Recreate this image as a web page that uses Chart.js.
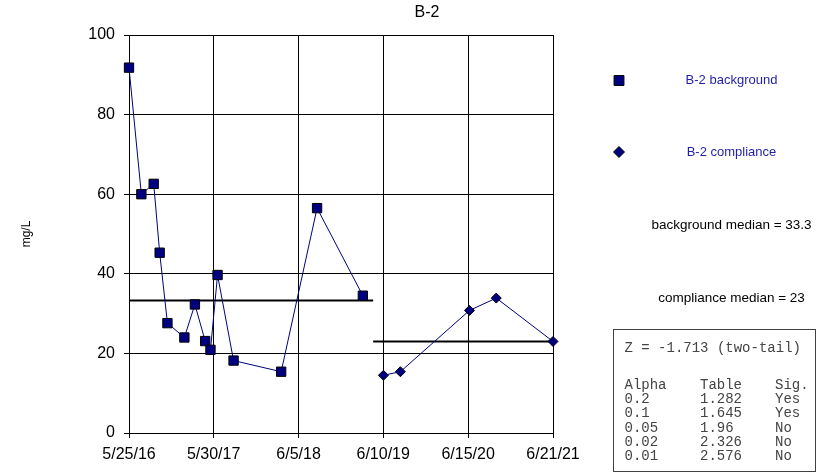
<!DOCTYPE html>
<html>
<head>
<meta charset="utf-8">
<title>B-2</title>
<script src="https://cdn.jsdelivr.net/npm/chart.js@4.4.1/dist/chart.umd.min.js"></script>
<style>
  html, body { margin: 0; padding: 0; background: #fff; }
  #wrap { width: 837px; height: 473px; }
</style>
</head>
<body>
<div id="wrap"><canvas id="b2-chart" width="837" height="473"></canvas></div>
<script>
// B-2 samples (mg/L)
const bgDates = ['5/25/16', '7/18/16', '9/10/16', '10/6/16', '11/9/16', '1/22/17', '3/9/17',
                 '4/23/17', '5/16/17', '6/16/17', '8/25/17', '3/21/18', '8/25/18', '3/13/19'];
const bgValues = [91.8, 60.0, 62.6, 45.3, 27.6, 24.0, 32.3, 23.1, 20.9, 39.7, 18.2, 15.4, 56.5, 34.5];

const compDates = ['6/11/19', '8/24/19', '6/21/20', '10/16/20', '6/21/21'];
const compValues = [14.5, 15.4, 30.8, 33.9, 23.0];

const bgMedian = 33.3;
const compMedian = 23;

const xTickLabels = ['5/25/16', '5/30/17', '6/5/18', '6/10/19', '6/15/20', '6/21/21'];

// stats box
const zLine = 'Z = -1.713 (two-tail)';
const statHeader = ['Alpha', 'Table', 'Sig.'];
const alphas = ['0.2', '0.1', '0.05', '0.02', '0.01'];
const tableVals = ['1.282', '1.645', '1.96', '2.326', '2.576'];
const sigs = ['Yes', 'Yes', 'No', 'No', 'No'];

// dates -> days since first tick (no date adapter loaded)
const DAY = 86400000;
function toMs(s) {
    const p = s.split('/');
    return Date.UTC(2000 + Number(p[2]), Number(p[0]) - 1, Number(p[1]));
}
const origin = toMs(xTickLabels[0]);
const toDay = s => (toMs(s) - origin) / DAY;

const tickDays = xTickLabels.map(toDay);
const xMax = tickDays[tickDays.length - 1];

const bgPoints = bgDates.map((d, i) => ({ x: toDay(d), y: bgValues[i] }));
const compPoints = compDates.map((d, i) => ({ x: toDay(d), y: compValues[i] }));
const splitDay = (bgPoints[bgPoints.length - 1].x + compPoints[0].x) / 2;

const NAVY = '#000080';
const SANS = "'Liberation Sans', Arial, sans-serif";
const MONO = "'Liberation Mono', 'Courier New', monospace";

Chart.defaults.font.family = SANS;
Chart.defaults.color = '#000';

// title, legend, median notes and the stats box
const sidePanel = {
    id: 'sidePanel',
    afterDraw(chart) {
        const ctx = chart.ctx;
        ctx.save();
        ctx.textBaseline = 'middle';

        ctx.fillStyle = '#000';
        ctx.font = '16px ' + SANS;
        ctx.textAlign = 'center';
        ctx.fillText('B-2', 427, 13);

        // legend
        const rows = [80.5, 152];
        [0, 1].forEach(i => {
            const ds = chart.data.datasets[i];
            ctx.fillStyle = ds.pointBackgroundColor;
            ctx.strokeStyle = ds.pointBorderColor;
            ctx.lineWidth = 1;
            const r = ds.pointStyle === 'rect' ? 7 : 5.5;
            Chart.helpers.drawPoint(ctx, { pointStyle: ds.pointStyle, radius: r, borderWidth: 1, rotation: 0 }, 619, rows[i]);
            ctx.fillStyle = '#1f1fa8';
            ctx.font = '13px ' + SANS;
            ctx.textAlign = 'center';
            ctx.fillText(ds.label, 731.5, rows[i]);
        });

        ctx.fillStyle = '#000';
        ctx.font = '13.5px ' + SANS;
        ctx.fillText('background median = ' + bgMedian, 731.5, 225);
        ctx.fillText('compliance median = ' + compMedian, 731.5, 298);

        // stats box
        ctx.strokeStyle = '#404040';
        ctx.lineWidth = 1;
        ctx.strokeRect(613.5, 329.5, 202, 142);

        ctx.fillStyle = '#444';
        ctx.font = '14px ' + MONO;
        ctx.textAlign = 'left';
        ctx.fillText(zLine, 624.5, 348);
        const cols = [624.5, 700, 775];
        statHeader.forEach((t, c) => ctx.fillText(t, cols[c], 385));
        alphas.forEach((a, i) => {
            const y = 399.3 + i * 14.3;
            ctx.fillText(a, cols[0], y);
            ctx.fillText(tableVals[i], cols[1], y);
            ctx.fillText(sigs[i], cols[2], y);
        });
        ctx.restore();
    }
};

new Chart(document.getElementById('b2-chart'), {
    type: 'line',
    data: {
        datasets: [{
            label: 'B-2 background',
            data: bgPoints,
            borderColor: NAVY,
            borderWidth: 1,
            pointStyle: 'rect',
            pointRadius: 6.6,
            pointBackgroundColor: NAVY,
            pointBorderColor: '#000',
            pointBorderWidth: 1,
            tension: 0,
            clip: false
        }, {
            label: 'B-2 compliance',
            data: compPoints,
            borderColor: NAVY,
            borderWidth: 1,
            pointStyle: 'rectRot',
            pointRadius: 5,
            pointBackgroundColor: NAVY,
            pointBorderColor: '#000',
            pointBorderWidth: 1,
            tension: 0,
            clip: false
        }, {
            label: 'background median',
            data: [{ x: 0, y: bgMedian }, { x: splitDay, y: bgMedian }],
            borderColor: '#000',
            borderWidth: 2,
            pointRadius: 0,
            clip: false
        }, {
            label: 'compliance median',
            data: [{ x: splitDay, y: compMedian }, { x: xMax, y: compMedian }],
            borderColor: '#000',
            borderWidth: 2,
            pointRadius: 0,
            clip: false
        }]
    },
    options: {
        responsive: false,
        devicePixelRatio: 1,
        animation: false,
        layout: {
            padding: { left: 0, right: 284, top: 35, bottom: 0 }
        },
        plugins: {
            legend: { display: false },
            title: { display: false },
            tooltip: { enabled: false }
        },
        scales: {
            x: {
                type: 'linear',
                min: 0,
                max: xMax,
                afterBuildTicks: scale => {
                    scale.ticks = tickDays.map(v => ({ value: v }));
                },
                afterFit: scale => { scale.height = 40; },
                ticks: {
                    autoSkip: false,
                    maxRotation: 0,
                    padding: 7,
                    font: { size: 16 },
                    callback: (value, index) => xTickLabels[index]
                },
                grid: { color: '#000', lineWidth: 1, tickLength: 5 },
                border: { color: '#000', width: 1 }
            },
            y: {
                min: 0,
                max: 100,
                afterFit: scale => { scale.width = 129; },
                ticks: {
                    stepSize: 20,
                    padding: 9,
                    font: { size: 16 }
                },
                title: {
                    display: true,
                    text: 'mg/L',
                    font: { size: 12 },
                    padding: { top: 19, bottom: 0 }
                },
                grid: { color: '#000', lineWidth: 1, tickLength: 5 },
                border: { color: '#000', width: 1 }
            }
        }
    },
    plugins: [sidePanel]
});
</script>
</body>
</html>
